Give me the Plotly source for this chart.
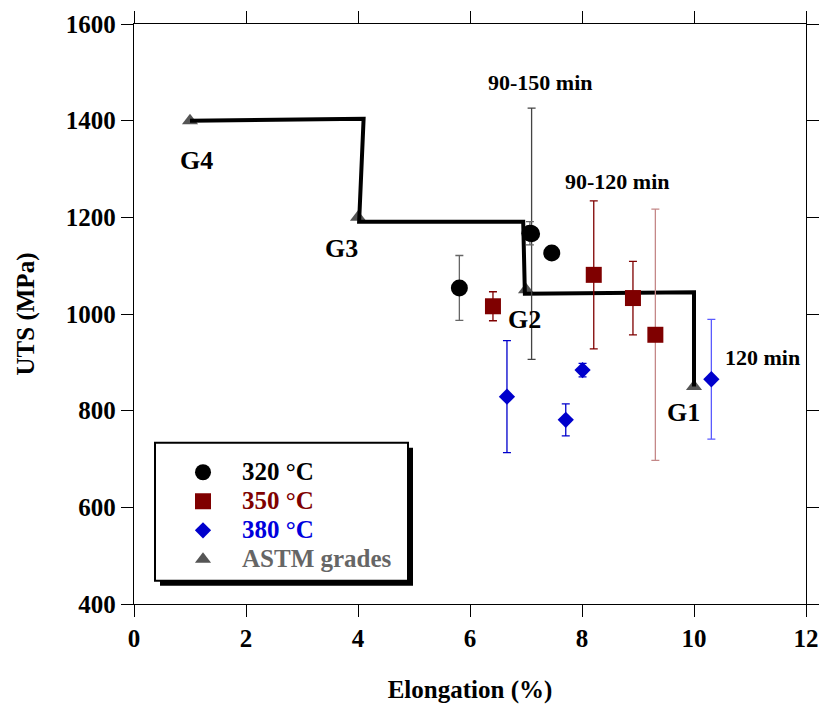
import plotly.graph_objects as go

# Elongation (%) and UTS (MPa) with symmetric error half-widths, per annealing temperature
x_320 = [5.81, 7.07, 7.46]
y_320 = [1054, 1167, 1126]
e_320 = [67, 24, 0]
# 320 °C sample with the wide 90-150 min spread
x_320_wide = [7.10]
y_320_wide = [1166]
e_320_wide = [260]

x_350 = [6.41, 8.21, 8.91]
y_350 = [1016, 1081, 1033]
e_350 = [30, 153, 76]
x_350_wide = [9.31]
y_350_wide = [957]
e_350_wide = [260]

x_380 = [6.66, 7.71, 8.01]
y_380 = [829, 781, 884]
e_380 = [116, 33, 14]
x_380_wide = [10.31]
y_380_wide = [865]
e_380_wide = [124]

# ASTM minimum requirements
grade_names = ["G1", "G2", "G3", "G4"]
grade_elong = [10, 7, 4, 1]
grade_uts = [850, 1050, 1200, 1400]

# Grade boundary staircase
stair_x = [1.0, 4.1, 4.02, 6.95, 6.98, 10.0, 10.0]
stair_y = [1400, 1404, 1191, 1191, 1042, 1045, 850]

# Label anchor positions for grade names and time annotations
grade_label_x = [9.81, 6.97, 3.70, 1.11]
grade_label_y = [796, 988, 1135, 1317]
time_labels = ["90-150 min", "90-120 min", "120 min"]
time_label_x = [7.25, 8.63, 11.22]
time_label_y = [1478, 1275, 911]

FONT = "Liberation Serif, Times New Roman, serif"
BLACK = "#000000"
RED = "#7f0000"
BLUE = "#0000cc"
GRAY = "#555555"


def legend_label(text, color):
    return (f"<b><span style='color:{color};font-size:25px'>"
            f"{text}</span></b>")


fig = go.Figure()

# ASTM grade markers (under the staircase)
fig.add_trace(go.Scatter(
    x=grade_elong, y=grade_uts, mode="markers",
    marker=dict(symbol="triangle-up", size=14, color=GRAY),
    name=legend_label("ASTM grades", "#666666"), legendrank=4,
))

fig.add_trace(go.Scatter(
    x=stair_x, y=stair_y, mode="lines",
    line=dict(color=BLACK, width=4), showlegend=False, hoverinfo="skip",
))


def err(vals, color):
    return dict(type="data", array=vals, visible=True, color=color,
                thickness=1.3, width=4)


fig.add_trace(go.Scatter(
    x=x_320_wide, y=y_320_wide, mode="markers",
    marker=dict(symbol="circle", size=17, color=BLACK),
    error_y=err(e_320_wide, "#444444"), showlegend=False,
))
fig.add_trace(go.Scatter(
    x=x_320, y=y_320, mode="markers",
    marker=dict(symbol="circle", size=17, color=BLACK),
    error_y=err(e_320, "#666666"),
    name=legend_label("320 °C", "#000000"), legendrank=1,
))

fig.add_trace(go.Scatter(
    x=x_350_wide, y=y_350_wide, mode="markers",
    marker=dict(symbol="square", size=16, color=RED),
    error_y=err(e_350_wide, "#c48888"), showlegend=False,
))
fig.add_trace(go.Scatter(
    x=x_350, y=y_350, mode="markers",
    marker=dict(symbol="square", size=16, color=RED),
    error_y=err(e_350, RED),
    name=legend_label("350 °C", "#7f0000"), legendrank=2,
))

fig.add_trace(go.Scatter(
    x=x_380_wide, y=y_380_wide, mode="markers",
    marker=dict(symbol="diamond", size=12.5, color=BLUE),
    error_y=err(e_380_wide, "#5a5aff"), showlegend=False,
))
fig.add_trace(go.Scatter(
    x=x_380, y=y_380, mode="markers",
    marker=dict(symbol="diamond", size=12.5, color=BLUE),
    error_y=err(e_380, BLUE),
    name=legend_label("380 °C", "#0000dd"), legendrank=3,
))

annotations = []
for name, gx, gy in zip(grade_names, grade_label_x, grade_label_y):
    annotations.append(dict(
        x=gx, y=gy, text=f"<b>{name}</b>", showarrow=False,
        font=dict(family=FONT, size=26, color=BLACK),
    ))
for t, tx, ty in zip(time_labels, time_label_x, time_label_y):
    annotations.append(dict(
        x=tx, y=ty, text=f"<b>{t}</b>", showarrow=False,
        font=dict(family=FONT, size=22, color=BLACK),
    ))

# Legend frame with drop shadow
L, T = 134, 24
W, H = 672, 580.3


def px(xp):
    return (xp - L) / W


def py(yp):
    return (T + H - yp) / H


shapes = [
    dict(type="rect", xref="paper", yref="paper",
         x0=px(160), x1=px(413), y0=py(586), y1=py(448),
         fillcolor=BLACK, line=dict(width=0), layer="above"),
    dict(type="rect", xref="paper", yref="paper",
         x0=px(155), x1=px(408), y0=py(581), y1=py(443),
         fillcolor="white", line=dict(color=BLACK, width=2), layer="above"),
]

axis_common = dict(
    showline=True, linecolor=BLACK, linewidth=1.3, mirror="ticks",
    ticks="outside", ticklen=12, tickwidth=1.3, tickcolor=BLACK,
    showgrid=False, zeroline=False, automargin=False,
    tickfont=dict(family=FONT, size=25, color=BLACK),
)

fig.update_layout(
    width=820, height=704,
    margin=dict(l=L, r=820 - L - W, t=T, b=704 - T - H),
    paper_bgcolor="white", plot_bgcolor="white",
    xaxis=dict(range=[0, 12], dtick=2, tickprefix="<b>", ticksuffix="</b>",
               title=dict(text="<b>Elongation (%)</b>", standoff=36,
                          font=dict(family=FONT, size=25, color=BLACK)),
               **axis_common),
    yaxis=dict(range=[400, 1600], dtick=200, tickprefix="<b>", ticksuffix="</b>",
               title=dict(text="<b>UTS (MPa)</b>", standoff=24,
                          font=dict(family=FONT, size=25, color=BLACK)),
               **axis_common),
    legend=dict(x=px(164), y=py(453), xanchor="left", yanchor="top",
                bgcolor="rgba(0,0,0,0)", borderwidth=0,
                font=dict(family=FONT, size=20, color=BLACK),
                tracegroupgap=0, itemwidth=68),
    annotations=annotations,
    shapes=shapes,
    showlegend=True,
)

fig.write_html("out.html")
